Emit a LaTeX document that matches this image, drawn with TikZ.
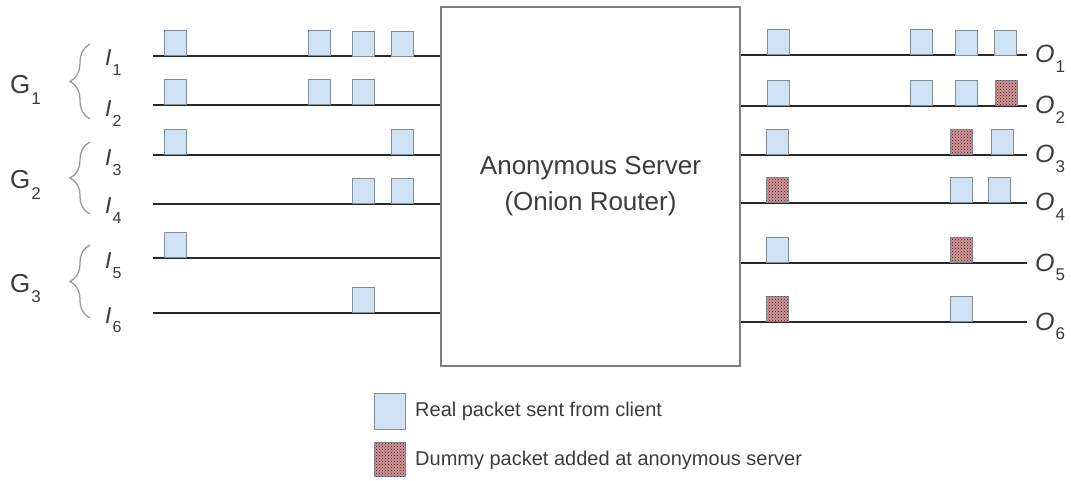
\documentclass[tikz,border=0pt]{standalone}
\usepackage{fontspec}
\setmainfont{Liberation Sans}
\usetikzlibrary{patterns,decorations.pathreplacing}

\definecolor{pktblue}{RGB}{207,226,243}
\definecolor{pktedge}{RGB}{130,142,152}
\definecolor{dumfill}{RGB}{200,150,150}
\definecolor{dumdot}{RGB}{105,20,30}
\definecolor{txtgray}{RGB}{60,60,60}
\definecolor{wiregray}{RGB}{40,40,40}

\newcommand{\sublab}[3]{{#1}\kern1pt\raisebox{-0.4em}{\fontsize{#3}{#3}\selectfont\upshape #2}}

\tikzset{
  real/.style={draw=pktedge, fill=pktblue, line width=1.2pt, minimum width=22pt,
    minimum height=25pt, inner sep=0pt, anchor=south west},
  dummy/.style={real, fill=dumfill, postaction={pattern=crosshatch dots, pattern color=dumdot}},
  wire/.style={draw=wiregray, line width=1.5pt},
  ilab/.style={anchor=base west, text=txtgray, inner sep=0pt, font=\fontsize{23}{27}\selectfont\itshape},
  olab/.style={ilab, font=\fontsize{25}{30}\selectfont\itshape},
  glab/.style={anchor=base west, text=txtgray, inner sep=0pt, font=\fontsize{26}{30}\selectfont},
  grp/.style={draw=gray!80, line width=1.3pt, decorate, decoration={brace, amplitude=20pt}},
  legtext/.style={anchor=west, text=txtgray, inner sep=0pt, font=\fontsize{20}{24}\selectfont}
}

\begin{document}
\begin{tikzpicture}[x=1pt,y=-1pt]
\useasboundingbox (0,0) rectangle (1071,481);

% server
\node [draw=gray, line width=1.2pt, minimum width=299pt, minimum height=359pt, inner sep=0pt,
  text=txtgray, align=center, font=\fontsize{26}{36}\selectfont] (server) at (590.5,186.5)
  {Anonymous Server\\(Onion Router)};

% input and output ends
\coordinate (in1) at (153,56);  \coordinate (out1) at (1027,55);
\coordinate (in2) at (153,105); \coordinate (out2) at (1027,106);
\coordinate (in3) at (153,155); \coordinate (out3) at (1027,155);
\coordinate (in4) at (153,204); \coordinate (out4) at (1027,203);
\coordinate (in5) at (153,258); \coordinate (out5) at (1027,263);
\coordinate (in6) at (153,313); \coordinate (out6) at (1027,322);

\foreach \i in {1,...,6}{
  \draw [wire] (in\i) -- (in\i -| server.west);
  \draw [wire] (out\i -| server.east) -- (out\i);
}

% real packets, input side
\foreach \x/\y [count=\n] in {164/56,308/56,352/57,391/57, 164/105,308/105,352/105,
    164/155,391/155, 352/204,391/204, 164/258, 352/313}
  \node [real] (pin\n) at (\x,\y) {};

% real packets, output side
\foreach \x/\y [count=\n] in {767/55,910/55,955/56,994/56, 767/106,910/106,955/106,
    766/155,991/155, 950/203,988/203, 766/263, 950/322}
  \node [real] (pout\n) at (\x,\y) {};

% dummy packets
\foreach \x/\y [count=\n] in {995/106, 950/155, 766/203, 950/263, 766/322}
  \node [dummy] (dum\n) at (\x,\y) {};

% labels
\node [ilab] (I1) at (105,66)  {\sublab{I}{1}{16}};
\node [ilab] (I2) at (105,117) {\sublab{I}{2}{16}};
\node [ilab] (I3) at (105,166) {\sublab{I}{3}{16}};
\node [ilab] (I4) at (105,214) {\sublab{I}{4}{16}};
\node [ilab] (I5) at (105,269) {\sublab{I}{5}{16}};
\node [ilab] (I6) at (105,323) {\sublab{I}{6}{16}};

\node [olab] (O1) at (1035,63)  {\sublab{O}{1}{17}};
\node [olab] (O2) at (1035,114) {\sublab{O}{2}{17}};
\node [olab] (O3) at (1035,163) {\sublab{O}{3}{17}};
\node [olab] (O4) at (1035,211) {\sublab{O}{4}{17}};
\node [olab] (O5) at (1035,271) {\sublab{O}{5}{17}};
\node [olab] (O6) at (1035,330) {\sublab{O}{6}{17}};

\node [glab] (G1) at (10,94)  {\sublab{G}{1}{17}};
\node [glab] (G2) at (10,189) {\sublab{G}{2}{17}};
\node [glab] (G3) at (10,292) {\sublab{G}{3}{17}};

% groups
\draw [grp] (90,119) -- (90,44);
\draw [grp] (90,214) -- (90,142);
\draw [grp] (90,318) -- (90,245);

% legend
\node [real, minimum width=31pt, minimum height=36pt, anchor=north west] (legreal) at (374,393) {};
\node [dummy, minimum width=31pt, minimum height=34pt, anchor=north west] (legdum) at (374,442) {};
\node [legtext] (legrealtext) at (415,411) {Real packet sent from client};
\node [legtext] (legdumtext) at (415,460) {Dummy packet added at anonymous server};

\end{tikzpicture}
\end{document}
